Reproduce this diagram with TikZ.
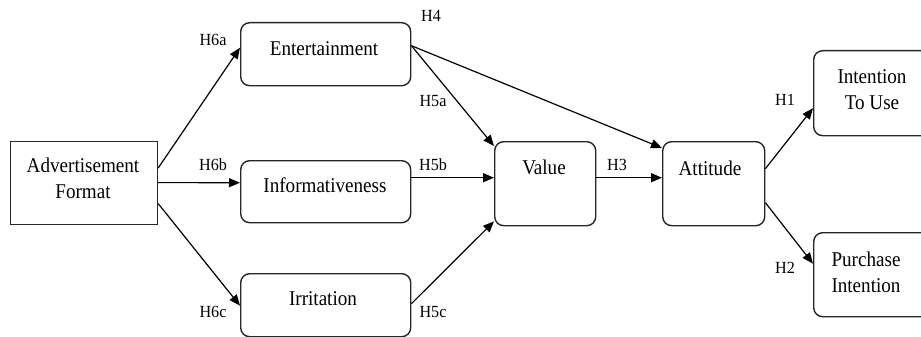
\documentclass[tikz,border=0pt]{standalone}
\usepackage{fontspec}
\setmainfont{Liberation Serif}
\newfontfamily\boxfont[FakeStretch=0.91]{Liberation Serif}
\newfontfamily\hypfont[FakeStretch=0.95]{Liberation Serif}
\usetikzlibrary{calc,arrows.meta}
\tikzset{
  box/.style={draw=black!85, line width=1.4pt, rounded corners=9pt, anchor=north west, inner sep=0pt},
  sqbox/.style={draw=black!85, line width=1.2pt, anchor=north west, inner sep=0pt},
  txt/.style={font=\boxfont\fontsize{21}{26}\selectfont, align=center, inner sep=0pt},
  hyp/.style={font=\hypfont\fontsize{17}{18}\selectfont, inner sep=0pt},
  arr/.style={line width=1.2pt, -{Triangle[length=11pt,width=9pt]}}
}
\begin{document}
\begin{tikzpicture}[x=1pt,y=-1pt]
\useasboundingbox (0,0) rectangle (921,337);
% boxes
\node[sqbox, minimum width=147pt, minimum height=83pt] (af) at (10,141) {};
\node[box, minimum width=170pt, minimum height=63pt] (ent) at (240,22) {};
\node[box, minimum width=170pt, minimum height=62pt] (inf) at (240,160) {};
\node[box, minimum width=170pt, minimum height=63pt] (irr) at (240,273) {};
\node[box, minimum width=101pt, minimum height=84pt] (val) at (494,141) {};
\node[box, minimum width=102pt, minimum height=84pt] (att) at (662,141) {};
\node[box, minimum width=140pt, minimum height=85pt] (itu) at (813,50) {};
\node[box, minimum width=140pt, minimum height=84pt] (pi) at (813,232) {};
% texts
\node[txt] (afT) at (83,178) {Advertisement\\Format};
\node[txt] (entT) at (324,49) {Entertainment};
\node[txt] (infT) at (325,185) {Informativeness};
\node[txt] (irrT) at (323,299) {Irritation};
\node[txt] (valT) at (544,167) {Value};
\node[txt] (attT) at (710,168) {Attitude};
\node[txt] (ituT) at (872,90) {Intention\\To Use};
\node[txt] (piT) at (866,272) {Purchase\\Intention};
% connectors
\draw[arr] ($(af.north east)+(0,27)$) -- ($(ent.west)+(0,-6.5)$);
\draw[arr] ($(af.east)+(0,-0.5)$) -- ($(inf.west)+(0,-9)$);
\draw[arr] ($(af.east)+(0,20.5)$) -- ($(irr.west)+(0,0.5)$);
\draw[arr] ($(ent.east)+(0,-8.5)$) -- ($(att.north west)+(0,7)$);
\draw[arr] ($(ent.east)+(0,-8.5)$) -- ($(val.north west)+(0,5)$);
\draw[arr] ($(inf.east)+(0,-14)$) -- ($(val.west)+(0,-6)$);
\draw[arr] ($(irr.east)+(0,-1.5)$) -- ($(val.south west)+(0,-5)$);
\draw[arr] ($(val.east)+(0,-6)$) -- ($(att.west)+(0,-6)$);
\draw[arr] ($(att.east)+(0,-15)$) -- ($(itu.west)+(0,15)$);
\draw[arr] ($(att.east)+(0,19)$) -- ($(pi.west)+(0,-11)$);
% hypothesis labels
\node[hyp] (h6a) at (213,40) {H6a};
\node[hyp] (h6b) at (213,165) {H6b};
\node[hyp] (h6c) at (213,312) {H6c};
\node[hyp] (h4) at (431,16) {H4};
\node[hyp] (h5a) at (433,101) {H5a};
\node[hyp] (h5b) at (433,165) {H5b};
\node[hyp] (h5c) at (433,312) {H5c};
\node[hyp] (h3) at (617,165) {H3};
\node[hyp] (h1) at (785,100) {H1};
\node[hyp] (h2) at (785,268) {H2};
\end{tikzpicture}
\end{document}
